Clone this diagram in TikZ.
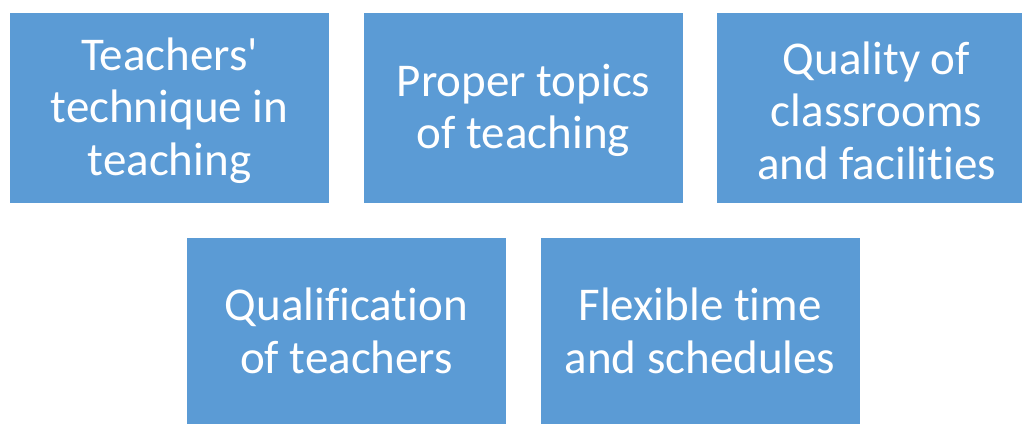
\documentclass[tikz,border=0pt]{standalone}
\usepackage{fontspec}
\setmainfont[Ligatures={NoCommon,NoRequired,NoContextual}]{Carlito}
\definecolor{boxblue}{HTML}{5B9BD5}
\begin{document}
\begin{tikzpicture}[x=1pt,y=-1pt,
  factor/.style={fill=boxblue, draw=none, minimum width=319pt, minimum height=190pt,
    inner sep=0pt},
  factortext/.style={inner sep=0pt, text=white, align=center,
    font=\fontsize{47}{52.5}\selectfont}]
\useasboundingbox (0,0) rectangle (1022,423);
\clip (0,0) rectangle (1022,423);
\node[factor] (f1) at (169.5,108) {};
\node[factor] (f2) at (523.5,108) {};
\node[factor] (f3) at (876.5,108) {};
\node[factor] (f4) at (346.5,333) {};
\node[factor] (f5) at (700,333) {};
\node[factortext] (t1) at ([yshift=-2.5pt]f1.center) {Teachers\textquotesingle\\technique in\\teaching};
\node[factortext] (t2) at ([yshift=-2.5pt]f2.center) {Proper topics\\of teaching};
\node[factortext] (t3) at ([yshift=-2.5pt]f3.center) {Quality of\\classrooms\\and facilities};
\node[factortext] (t4) at ([yshift=2pt]f4.center) {Qualification\\of teachers};
\node[factortext] (t5) at ([yshift=2pt]f5.center) {Flexible time\\and schedules};
\end{tikzpicture}
\end{document}
